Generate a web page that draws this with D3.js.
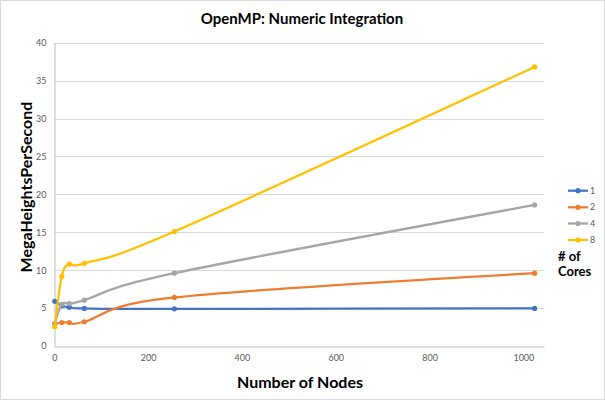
<!DOCTYPE html>
<html><head><meta charset="utf-8">
<script src="https://cdn.jsdelivr.net/npm/d3@7"></script>
<style>body{margin:0;background:#fff}svg{display:block}</style>
</head><body>
<script>
const nodes = [1, 16, 32, 64, 256, 1024];
const seriesNames = ["1", "2", "4", "8"];
const cores1 = [5.9, 5.3, 5.1, 4.95, 4.9, 4.95];
const cores2 = [2.9, 3.1, 3.1, 3.2, 6.4, 9.6];
const cores4 = [3.0, 5.5, 5.6, 6.05, 9.6, 18.6];
const cores8 = [2.55, 9.2, 10.8, 10.9, 15.1, 36.8];
const xTicks = [0, 200, 400, 600, 800, 1000];
const yTicks = [0, 5, 10, 15, 20, 25, 30, 35, 40];
const colors = ["#4472C4", "#ED7D31", "#A5A5A5", "#FFC000"];
const allSeries = [cores1, cores2, cores4, cores8];

const W = 605, H = 400;
const svg = d3.select("body").append("svg").attr("width", W).attr("height", H);
const font = "Lato, 'Open Sans', sans-serif";

svg.append("rect").attr("x", 0.5).attr("y", 0.5).attr("width", W - 1).attr("height", H - 1)
  .attr("fill", "#fff").attr("stroke", "#d9d9d9");

const x = d3.scaleLinear().domain([0, 1044]).range([54.3, 544]);
const y = d3.scaleLinear().domain([0, 40]).range([346, 42.7]);

// gridlines
svg.append("g").selectAll("line").data(yTicks.filter(d => d > 0)).join("line")
  .attr("x1", x(0)).attr("x2", x(1044))
  .attr("y1", d => Math.round(y(d)) + 0.5).attr("y2", d => Math.round(y(d)) + 0.5)
  .attr("stroke", "#d9d9d9").attr("stroke-width", 1);

// axes
const xAxis = svg.append("g").attr("transform", `translate(0,${Math.round(y(0)) + 0.5})`)
  .call(d3.axisBottom(x).tickValues(xTicks).tickFormat(d3.format("d")).tickSize(0).tickPadding(8));
xAxis.select(".domain").attr("stroke", "#bfbfbf");
xAxis.selectAll("text").attr("fill", "#595959").style("font-family", font).style("font-size", "9px");

const yAxis = svg.append("g").attr("transform", `translate(${Math.round(x(0)) + 0.5},0)`)
  .call(d3.axisLeft(y).tickValues(yTicks).tickFormat(d3.format("d")).tickSize(0).tickPadding(8));
yAxis.select(".domain").attr("stroke", "#bfbfbf");
yAxis.selectAll("text").attr("fill", "#595959").style("font-family", font).style("font-size", "9px");

// lines
const line = d3.line().x((d, i) => x(nodes[i])).y(d => y(d)).curve(d3.curveCatmullRom.alpha(0));
allSeries.forEach((s, k) => {
  svg.append("path").datum(s).attr("d", line).attr("fill", "none")
    .attr("stroke", colors[k]).attr("stroke-width", 2.25).attr("stroke-linecap", "round");
  svg.append("g").selectAll("circle").data(s).join("circle")
    .attr("cx", (d, i) => x(nodes[i])).attr("cy", d => y(d)).attr("r", 2.6)
    .attr("fill", colors[k]);
});

// title
svg.append("text").attr("x", 302).attr("y", 24).attr("text-anchor", "middle")
  .style("font-family", font).style("font-weight", "bold").style("font-size", "15px")
  .attr("fill", "#000").text("OpenMP: Numeric Integration");

svg.append("text").attr("x", 300).attr("y", 388).attr("text-anchor", "middle")
  .style("font-family", font).style("font-weight", "bold").style("font-size", "16px")
  .attr("fill", "#000").text("Number of Nodes");

svg.append("text").attr("transform", "translate(32,187) rotate(-90)").attr("text-anchor", "middle")
  .style("font-family", font).style("font-weight", "bold").style("font-size", "16px")
  .attr("fill", "#000").text("MegaHeightsPerSecond");

// legend
const leg = svg.append("g");
seriesNames.forEach((n, k) => {
  const ly = [190.7, 207.3, 223.5, 240][k];
  leg.append("line").attr("x1", 568).attr("x2", 588).attr("y1", ly).attr("y2", ly)
    .attr("stroke", colors[k]).attr("stroke-width", 2.25);
  leg.append("circle").attr("cx", 578).attr("cy", ly).attr("r", 2.6).attr("fill", colors[k]);
  leg.append("text").attr("x", 590).attr("y", ly + 3).style("font-family", font)
    .style("font-size", "9px").attr("fill", "#595959").text(n);
});
leg.append("text").attr("x", 558).attr("y", 261).style("font-family", font)
  .style("font-weight", "bold").style("font-size", "13px").attr("fill", "#000").text("# of");
leg.append("text").attr("x", 558).attr("y", 276).style("font-family", font)
  .style("font-weight", "bold").style("font-size", "13px").attr("fill", "#000").text("Cores");
</script>
</body></html>
